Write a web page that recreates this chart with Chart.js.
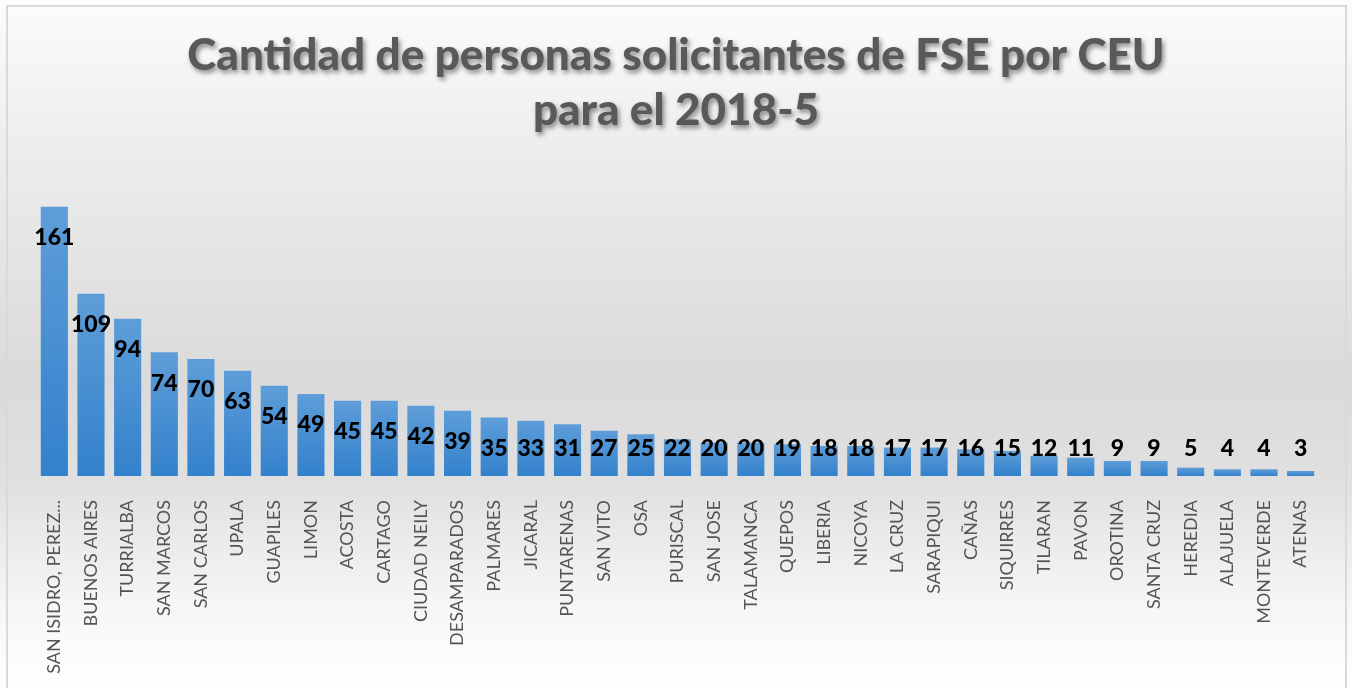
<!DOCTYPE html>
<html>
<head>
<meta charset="utf-8">
<title>Cantidad de personas solicitantes de FSE por CEU</title>
<script src="https://cdn.jsdelivr.net/npm/chart.js@4.4.1/dist/chart.umd.min.js"></script>
<style>
  html, body { margin: 0; padding: 0; background: #fff; }
  #wrap { width: 1352px; height: 688px; position: relative; }
</style>
</head>
<body>
<div id="wrap"><canvas id="ceuChart"></canvas></div>
<script>
  // data
  let ceus = ['SAN ISIDRO, PEREZ...', 'BUENOS AIRES', 'TURRIALBA', 'SAN MARCOS', 'SAN CARLOS', 'UPALA',
    'GUAPILES', 'LIMON', 'ACOSTA', 'CARTAGO', 'CIUDAD NEILY', 'DESAMPARADOS', 'PALMARES', 'JICARAL',
    'PUNTARENAS', 'SAN VITO', 'OSA', 'PURISCAL', 'SAN JOSE', 'TALAMANCA', 'QUEPOS', 'LIBERIA', 'NICOYA',
    'LA CRUZ', 'SARAPIQUI', 'CAÑAS', 'SIQUIRRES', 'TILARAN', 'PAVON', 'OROTINA', 'SANTA CRUZ',
    'HEREDIA', 'ALAJUELA', 'MONTEVERDE', 'ATENAS'];
  let solicitantes = [161, 109, 94, 74, 70, 63, 54, 49, 45, 45, 42, 39, 35, 33, 31, 27, 25, 22, 20, 20,
    19, 18, 18, 17, 17, 16, 15, 12, 11, 9, 9, 5, 4, 4, 3];
  let titleLines = ['Cantidad de personas solicitantes de FSE por CEU', 'para el 2018-5'];

  // gray backdrop + frame, like the Excel chart area
  let backdrop = {
    id: 'backdrop',
    beforeDraw(chart) {
      let ctx = chart.ctx;
      let w = chart.width, h = chart.height;
      let g = ctx.createLinearGradient(0, 0, 0, h);
      g.addColorStop(0, '#fcfcfc');
      g.addColorStop(0.25, '#ebebeb');
      g.addColorStop(0.55, '#dadada');
      g.addColorStop(0.7, '#e0e0e0');
      g.addColorStop(0.88, '#f6f6f6');
      g.addColorStop(1, '#ffffff');
      ctx.save();
      ctx.fillStyle = g;
      ctx.fillRect(0, 0, w, h);
      ctx.strokeStyle = '#d9d9d9';
      ctx.lineWidth = 2;
      ctx.strokeRect(7, 6, w - 13, h + 10);
      ctx.restore();
    }
  };

  // two-line title with a soft drop shadow
  let shadowTitle = {
    id: 'shadowTitle',
    afterDraw(chart) {
      let ctx = chart.ctx;
      ctx.save();
      ctx.font = '900 44px Lato';
      ctx.fillStyle = '#595959';
      ctx.textAlign = 'center';
      ctx.textBaseline = 'alphabetic';
      ctx.shadowColor = 'rgba(0,0,0,0.45)';
      ctx.shadowBlur = 5;
      ctx.shadowOffsetX = 2;
      ctx.shadowOffsetY = 3;
      titleLines.forEach((line, i) => ctx.fillText(line, chart.width / 2, 70 + i * 55));
      ctx.restore();
    }
  };

  // value labels: inside the top of the bar, never lower than just above the axis
  let valueLabels = {
    id: 'valueLabels',
    afterDatasetsDraw(chart) {
      let ctx = chart.ctx;
      let meta = chart.getDatasetMeta(0);
      let base = chart.scales.y.getPixelForValue(0);
      ctx.save();
      ctx.font = '900 23px Lato';
      ctx.fillStyle = '#000000';
      ctx.textAlign = 'center';
      ctx.textBaseline = 'middle';
      meta.data.forEach((bar, i) => {
        let y = Math.min(bar.y + 31, base - 27);
        ctx.fillText(String(chart.data.datasets[0].data[i]), bar.x, y);
      });
      ctx.restore();
    }
  };

  let ceuCtx = document.getElementById('ceuChart').getContext('2d');

  let ceuChart = new Chart(ceuCtx, {
    type: 'bar',
    data: {
      labels: ceus,
      datasets: [{
        label: 'Solicitantes',
        data: solicitantes,
        backgroundColor: (c) => {
          let chart = c.chart;
          if (!chart.chartArea || c.type !== 'data') return '#4a8fd3';
          let top = chart.scales.y.getPixelForValue(c.raw);
          let bottom = chart.scales.y.getPixelForValue(0);
          let g = chart.ctx.createLinearGradient(0, top, 0, bottom);
          g.addColorStop(0, '#5e9dd8');
          g.addColorStop(1, '#3381cc');
          return g;
        },
        borderWidth: 0,
        barPercentage: 0.74,
        categoryPercentage: 1,
      }]
    },
    options: {
      responsive: true,
      maintainAspectRatio: false,
      animation: false,
      layout: {
        padding: { left: 36, right: 33, top: 175, bottom: 0 }
      },
      plugins: {
        legend: { display: false },
        tooltip: { enabled: false },
        title: { display: false },
      },
      scales: {
        x: {
          grid: { display: false },
          border: { display: false },
          ticks: {
            autoSkip: false,
            minRotation: 90,
            maxRotation: 90,
            padding: 16,
            color: '#555555',
            font: { family: 'Lato', size: 18 },
          },
          afterFit(scale) {
            scale.height = 212;
          }
        },
        y: {
          display: false,
          min: 0,
          max: 180,
        }
      }
    },
    plugins: [backdrop, shadowTitle, valueLabels]
  });
</script>
</body>
</html>
